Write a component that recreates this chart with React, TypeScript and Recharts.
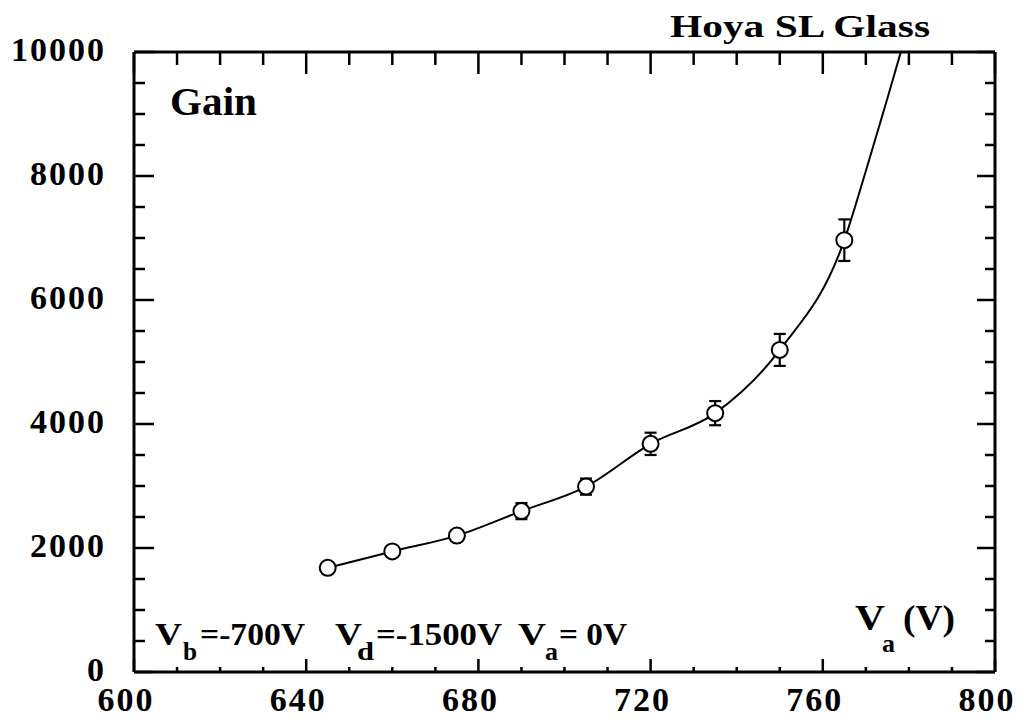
import React from "react";
import { ComposedChart, Line, XAxis, YAxis, ErrorBar } from "recharts";

// Measured points (anode voltage V, gain, error)
const voltages = [645, 660, 675, 690, 705, 720, 735, 750, 765];
const gains = [1680, 1945, 2200, 2595, 2990, 3680, 4175, 5195, 6965];
const gainErrors = [60, 70, 80, 130, 130, 180, 195, 258, 335];

// Smooth fit curve
const fitVoltages = [645, 660, 675, 690, 705, 720, 735, 750, 765, 770, 775, 780];
const fitGains = [1680, 1945, 2200, 2595, 2990, 3680, 4175, 5195, 6965, 8080, 9250, 10450];

const xTicks = [600, 610, 620, 630, 640, 650, 660, 670, 680, 690, 700, 710, 720, 730, 740, 750, 760, 770, 780, 790, 800];
const xMajor = [600, 640, 680, 720, 760, 800];
const yTicks = [0, 500, 1000, 1500, 2000, 2500, 3000, 3500, 4000, 4500, 5000, 5500, 6000, 6500, 7000, 7500, 8000, 8500, 9000, 9500, 10000];
const yMajor = [0, 2000, 4000, 6000, 8000, 10000];

const dataPoints = voltages.map((v, i) => ({ x: v, y: gains[i], err: gainErrors[i] }));
const fitPoints = fitVoltages.map((v, i) => ({ x: v, y: fitGains[i] }));

const FONT = "Liberation Serif, Times New Roman, serif";

const BottomTick = (props: any) => {
  const { x, y, payload } = props;
  const v = payload.value;
  const major = xMajor.includes(v);
  return (
    <g>
      <line x1={x} x2={x} y1={y} y2={y - (major ? 13 : 5)} stroke="#000" strokeWidth={2.5} />
      {major && (
        <text x={x - 8} y={y + 39} textAnchor="middle" fontFamily={FONT} fontWeight="bold" fontSize={34} letterSpacing={2} fill="#000">
          {v}
        </text>
      )}
    </g>
  );
};

const TopTick = (props: any) => {
  const { x, y, payload } = props;
  const major = xMajor.includes(payload.value);
  return <line x1={x} x2={x} y1={y} y2={y + (major ? 22 : 13)} stroke="#000" strokeWidth={2.5} />;
};

const LeftTick = (props: any) => {
  const { x, y, payload } = props;
  const v = payload.value;
  const major = yMajor.includes(v);
  return (
    <g>
      <line x1={x} x2={x + (major ? 20 : 11)} y1={y} y2={y} stroke="#000" strokeWidth={2.5} />
      {major && (
        <text x={x - 28} y={y + 9} textAnchor="end" fontFamily={FONT} fontWeight="bold" fontSize={34} letterSpacing={2} fill="#000">
          {v}
        </text>
      )}
    </g>
  );
};

const RightTick = (props: any) => {
  const { x, y, payload } = props;
  const major = yMajor.includes(payload.value);
  return <line x1={x} x2={x - (major ? 18 : 10)} y1={y} y2={y} stroke="#000" strokeWidth={2.5} />;
};

const T = (p: any) => (
  <text fontFamily={FONT} fontWeight="bold" fill="#000" lengthAdjust="spacingAndGlyphs" {...p} />
);

export default function App() {
  return (
    <div style={{ position: "absolute", left: 0, top: 0, width: 1028, height: 722, background: "#fff" }}>
      <ComposedChart width={1028} height={722} margin={{ top: 51, right: 32, bottom: 0, left: 0 }}>
        <XAxis
          xAxisId="b"
          dataKey="x"
          type="number"
          orientation="bottom"
          domain={[600, 800]}
          ticks={xTicks}
          interval={0}
          allowDataOverflow
          height={50}
          tickSize={0}
          tickMargin={0}
          tickLine={false}
          tick={<BottomTick />}
          axisLine={{ stroke: "#000", strokeWidth: 3 }}
        />
        <XAxis
          xAxisId="t"
          dataKey="x"
          type="number"
          orientation="top"
          domain={[600, 800]}
          ticks={xTicks}
          interval={0}
          allowDataOverflow
          height={1}
          tickSize={0}
          tickMargin={0}
          tickLine={false}
          tick={<TopTick />}
          axisLine={{ stroke: "#000", strokeWidth: 3 }}
        />
        <YAxis
          yAxisId="l"
          dataKey="y"
          type="number"
          orientation="left"
          domain={[0, 10000]}
          ticks={yTicks}
          interval={0}
          allowDataOverflow
          width={134}
          tickSize={0}
          tickMargin={0}
          tickLine={false}
          tick={<LeftTick />}
          axisLine={{ stroke: "#000", strokeWidth: 3 }}
        />
        <YAxis
          yAxisId="r"
          dataKey="y"
          type="number"
          orientation="right"
          domain={[0, 10000]}
          ticks={yTicks}
          interval={0}
          allowDataOverflow
          width={1}
          tickSize={0}
          tickMargin={0}
          tickLine={false}
          tick={<RightTick />}
          axisLine={{ stroke: "#000", strokeWidth: 3 }}
        />
        <Line
          xAxisId="b"
          yAxisId="l"
          data={fitPoints}
          dataKey="y"
          type="monotone"
          stroke="#000"
          strokeWidth={2}
          dot={false}
          activeDot={false}
          isAnimationActive={false}
        />
        <Line
          xAxisId="t"
          yAxisId="r"
          data={dataPoints}
          dataKey="y"
          stroke="none"
          strokeWidth={0}
          dot={{ r: 8, fill: "#fff", stroke: "#000", strokeWidth: 2 }}
          activeDot={false}
          isAnimationActive={false}
        >
          <ErrorBar dataKey="err" width={6} stroke="#000" strokeWidth={2.2} direction="y" />
        </Line>
      </ComposedChart>
      <svg width={1028} height={722} style={{ position: "absolute", left: 0, top: 0, pointerEvents: "none" }}>
        <T x={670} y={37} fontSize={32} textLength={260}>Hoya SL Glass</T>
        <T x={170} y={115} fontSize={39} textLength={87}>Gain</T>

        <T x={155} y={645} fontSize={32} textLength={27}>V</T>
        <T x={183} y={660} fontSize={26} textLength={14}>b</T>
        <T x={200} y={645} fontSize={32} textLength={105}>=-700V</T>

        <T x={335} y={645} fontSize={32} textLength={27}>V</T>
        <T x={357} y={660} fontSize={26} textLength={17}>d</T>
        <T x={376} y={645} fontSize={32} textLength={126}>=-1500V</T>

        <T x={518} y={645} fontSize={32} textLength={28}>V</T>
        <T x={545} y={660} fontSize={26} textLength={13}>a</T>
        <T x={559} y={645} fontSize={32} textLength={68}>= 0V</T>

        <T x={855} y={630} fontSize={35} textLength={30}>V</T>
        <T x={882} y={652} fontSize={26} textLength={13}>a</T>
        <T x={903} y={630} fontSize={35} textLength={52}>(V)</T>
      </svg>
    </div>
  );
}
